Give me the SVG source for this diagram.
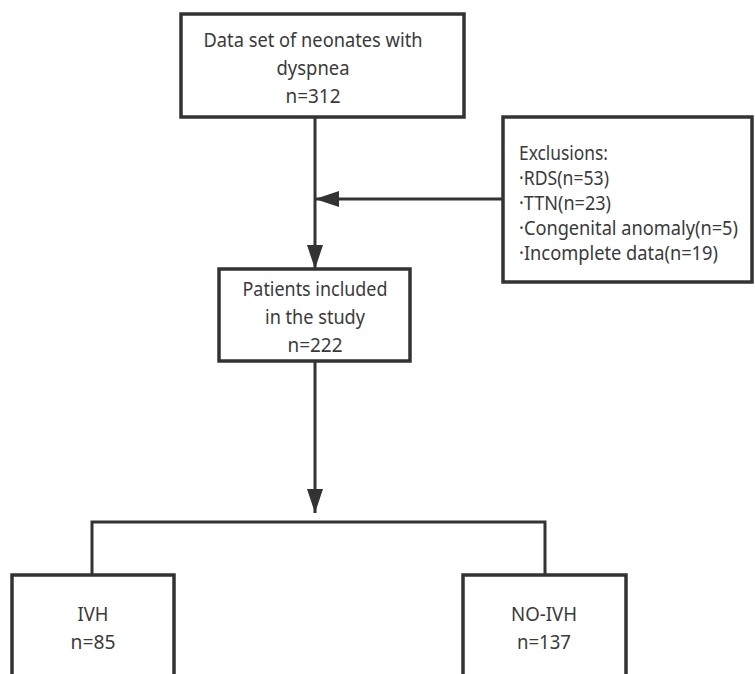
<svg xmlns="http://www.w3.org/2000/svg" width="755" height="674" viewBox="0 0 755 674">
  <defs>
    <marker id="arrow" markerUnits="userSpaceOnUse" markerWidth="24" markerHeight="16" refX="24" refY="8" orient="auto">
      <path d="M0,0 L24,8 L0,16 Z" fill="#333"/>
    </marker>
    <style>
      .box { fill: #fff; stroke: #333; stroke-width: 3.5; }
      .line { fill: none; stroke: #333; stroke-width: 3; }
      .t { font-family: "Noto Sans", "Open Sans", sans-serif; font-size: 20px; fill: #3a3a3a; }
      .s { font-size: 19px; }
      .c { text-anchor: middle; }
    </style>
  </defs>
  <rect width="755" height="674" fill="#fff"/>

  <g id="connectors">
    <line class="line" x1="315" y1="117" x2="315" y2="269" marker-end="url(#arrow)"/>
    <line class="line" x1="503" y1="199" x2="315" y2="199" marker-end="url(#arrow)"/>
    <line class="line" x1="315" y1="361" x2="315" y2="513" marker-end="url(#arrow)"/>
    <path class="line" d="M92,575 V522 H545 V575"/>
  </g>

  <g id="node-dataset">
    <rect class="box" x="181" y="14" width="283" height="103"/>
    <text class="t c" x="313" y="47" textLength="219" lengthAdjust="spacingAndGlyphs">Data set of neonates with</text>
    <text class="t c" x="313" y="75" textLength="73" lengthAdjust="spacingAndGlyphs">dyspnea</text>
    <text class="t c" x="313" y="103" textLength="55" lengthAdjust="spacingAndGlyphs">n=312</text>
  </g>

  <g id="node-exclusions">
    <rect class="box" x="503" y="117" width="249" height="165"/>
    <text class="t s" x="519" y="160" textLength="89" lengthAdjust="spacingAndGlyphs">Exclusions:</text>
    <text class="t s" x="519" y="185" textLength="90" lengthAdjust="spacingAndGlyphs">·RDS(n=53)</text>
    <text class="t s" x="519" y="210" textLength="92" lengthAdjust="spacingAndGlyphs">·TTN(n=23)</text>
    <text class="t s" x="519" y="235" textLength="219" lengthAdjust="spacingAndGlyphs">·Congenital anomaly(n=5)</text>
    <text class="t s" x="519" y="260" textLength="199" lengthAdjust="spacingAndGlyphs">·Incomplete data(n=19)</text>
  </g>

  <g id="node-included">
    <rect class="box" x="219" y="269" width="191" height="92"/>
    <text class="t c" x="315" y="296" textLength="145" lengthAdjust="spacingAndGlyphs">Patients included</text>
    <text class="t c" x="315" y="324" textLength="100" lengthAdjust="spacingAndGlyphs">in the study</text>
    <text class="t c" x="315" y="352" textLength="55" lengthAdjust="spacingAndGlyphs">n=222</text>
  </g>

  <g id="node-ivh">
    <rect class="box" x="12" y="575" width="162" height="120"/>
    <text class="t c" x="93" y="621" textLength="31" lengthAdjust="spacingAndGlyphs">IVH</text>
    <text class="t c" x="93" y="649" textLength="45" lengthAdjust="spacingAndGlyphs">n=85</text>
  </g>

  <g id="node-noivh">
    <rect class="box" x="463" y="575" width="163" height="120"/>
    <text class="t c" x="544" y="621" textLength="66" lengthAdjust="spacingAndGlyphs">NO-IVH</text>
    <text class="t c" x="544" y="649" textLength="54" lengthAdjust="spacingAndGlyphs">n=137</text>
  </g>
</svg>
